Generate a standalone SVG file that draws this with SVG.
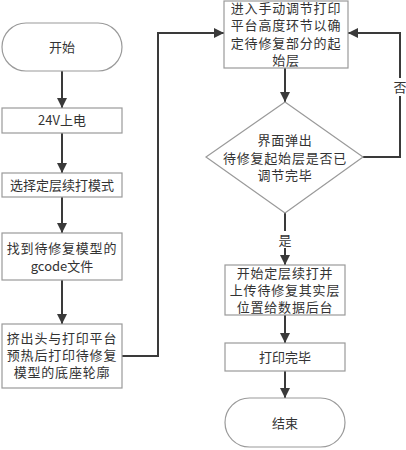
<svg xmlns="http://www.w3.org/2000/svg" width="406" height="450" viewBox="0 0 406 450">
<style>
.n{fill:#ffffff;stroke:#9a9a9a;stroke-width:1.2}
.t{font-family:"Noto Sans CJK SC","Liberation Sans",sans-serif;font-size:13px;fill:#333333;text-anchor:middle}
.w{letter-spacing:0.8px}
.c{fill:none;stroke:#3a3a3a;stroke-width:2}
</style>
<defs>
<marker id="a" viewBox="0 0 10 10" refX="10" refY="5" markerWidth="5" markerHeight="5" orient="auto" markerUnits="strokeWidth">
<path d="M0,0 L10,5 L0,10 z" fill="#3a3a3a"/>
</marker>
</defs>
<rect width="406" height="450" fill="#ffffff"/>
<g id="connectors">
<path class="c" d="M62,71 V108" marker-end="url(#a)"/>
<path class="c" d="M62,133 V173" marker-end="url(#a)"/>
<path class="c" d="M62,197 V233" marker-end="url(#a)"/>
<path class="c" d="M62,280 V324" marker-end="url(#a)"/>
<path class="c" d="M122,356 H158 V33 H224" marker-end="url(#a)"/>
<path class="c" d="M285,68 V102" marker-end="url(#a)"/>
<path class="c" d="M363,157 H400 V33 H348" marker-end="url(#a)"/>
<path class="c" d="M285,213 V265" marker-end="url(#a)"/>
<path class="c" d="M285,315 V343" marker-end="url(#a)"/>
<path class="c" d="M285,371 V398" marker-end="url(#a)"/>
<rect x="393" y="78" width="14" height="18" fill="#ffffff"/>
<text class="t" x="400" y="92" font-size="12.5">否</text>
<rect x="277" y="231" width="16" height="17" fill="#ffffff"/>
<text class="t" x="285" y="245" font-size="12.5">是</text>
</g>
<g id="start">
<rect class="n" x="2" y="23" width="120" height="48" rx="24" ry="24"/>
<text class="t" x="62" y="52" font-size="13.5">开始</text>
</g>
<g id="power">
<rect class="n" x="2" y="108" width="120" height="25"/>
<text class="t" x="62" y="125" font-size="13.5">24V上电</text>
</g>
<g id="mode">
<rect class="n" x="2" y="173" width="120" height="24"/>
<text class="t" x="62" y="190" font-size="13.5">选择定层续打模式</text>
</g>
<g id="gcode">
<rect class="n" x="2" y="233" width="120" height="47"/>
<text class="t w" x="62" y="253">找到待修复模型的</text>
<text class="t" x="62" y="271" font-size="13.5">gcode文件</text>
</g>
<g id="preheat">
<rect class="n" x="2" y="324" width="120" height="64"/>
<text class="t w" x="62" y="343">挤出头与打印平台</text>
<text class="t w" x="62" y="360">预热后打印待修复</text>
<text class="t w" x="62" y="377">模型的底座轮廓</text>
</g>
<g id="adjust">
<rect class="n" x="224" y="1" width="124" height="67"/>
<text class="t w" x="286" y="13">进入手动调节打印</text>
<text class="t w" x="286" y="30">平台高度环节以确</text>
<text class="t w" x="286" y="48">定待修复部分的起</text>
<text class="t w" x="286" y="65">始层</text>
</g>
<g id="decision">
<polygon class="n" points="285,102 363,157 285,213 206,157"/>
<text class="t w" x="285" y="145">界面弹出</text>
<text class="t w" x="285" y="163">待修复起始层是否已</text>
<text class="t w" x="285" y="180">调节完毕</text>
</g>
<g id="upload">
<rect class="n" x="225" y="265" width="120" height="50"/>
<text class="t w" x="285" y="278">开始定层续打并</text>
<text class="t w" x="285" y="295">上传待修复其实层</text>
<text class="t w" x="285" y="312">位置给数据后台</text>
</g>
<g id="done">
<rect class="n" x="225" y="343" width="120" height="28"/>
<text class="t" x="285" y="362" font-size="14">打印完毕</text>
</g>
<g id="end">
<rect class="n" x="225" y="398" width="120" height="49" rx="24.5" ry="24.5"/>
<text class="t" x="285" y="428" font-size="14">结束</text>
</g>
</svg>
